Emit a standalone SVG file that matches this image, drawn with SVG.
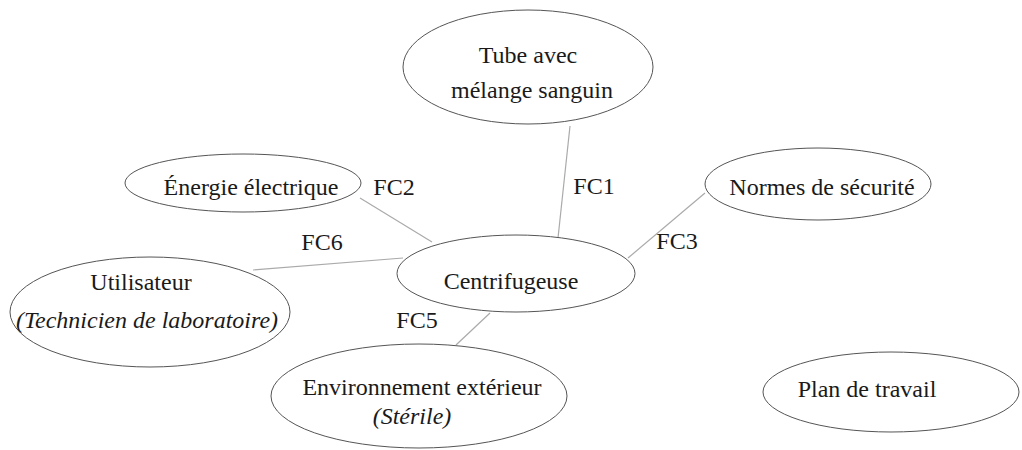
<svg xmlns="http://www.w3.org/2000/svg" width="1022" height="450" viewBox="0 0 1022 450">
<style>
.node ellipse{fill:#fff;stroke:#555;stroke-width:1}
.t{font-family:'Liberation Serif','DejaVu Serif',serif;font-size:24px;fill:#1a1a1a;text-anchor:middle}
.it{font-style:italic}
.conn line{stroke:#aaa;stroke-width:1.2}
</style>
<rect width="1022" height="450" fill="#fff"/>
<g id="connectors" class="conn">
<line x1="570" y1="126" x2="558" y2="238"/>
<line x1="360" y1="198" x2="432" y2="242"/>
<line x1="253" y1="270" x2="403" y2="258"/>
<line x1="705" y1="193" x2="628" y2="258"/>
<line x1="456" y1="345" x2="490" y2="313"/>
</g>
<g id="labels" class="t">
<text x="394" y="195">FC2</text>
<text x="594" y="194">FC1</text>
<text x="322" y="250">FC6</text>
<text x="677" y="249">FC3</text>
<text x="417" y="328">FC5</text>
</g>
<g id="tube" class="node">
<ellipse cx="528" cy="67" rx="125" ry="57"/>
<text class="t" x="528" y="63">Tube avec</text>
<text class="t" x="532" y="98">mélange sanguin</text>
</g>
<g id="energie" class="node">
<ellipse cx="243" cy="183" rx="118" ry="29"/>
<text class="t" x="251" y="195">Énergie électrique</text>
</g>
<g id="normes" class="node">
<ellipse cx="818" cy="184" rx="113" ry="36"/>
<text class="t" x="822" y="195">Normes de sécurité</text>
</g>
<g id="centrifugeuse" class="node">
<ellipse cx="516" cy="273.5" rx="119" ry="38.5"/>
<text class="t" x="511" y="289">Centrifugeuse</text>
</g>
<g id="utilisateur" class="node">
<ellipse cx="150" cy="312" rx="140" ry="55"/>
<text class="t" x="141" y="290">Utilisateur</text>
<text class="t it" x="147" y="328">(Technicien de laboratoire)</text>
</g>
<g id="environnement" class="node">
<ellipse cx="419" cy="396" rx="148" ry="52"/>
<text class="t" x="422" y="395">Environnement extérieur</text>
<text class="t it" x="412" y="424">(Stérile)</text>
</g>
<g id="plan" class="node">
<ellipse cx="891" cy="392" rx="128" ry="40"/>
<text class="t" x="867" y="397">Plan de travail</text>
</g>
</svg>
